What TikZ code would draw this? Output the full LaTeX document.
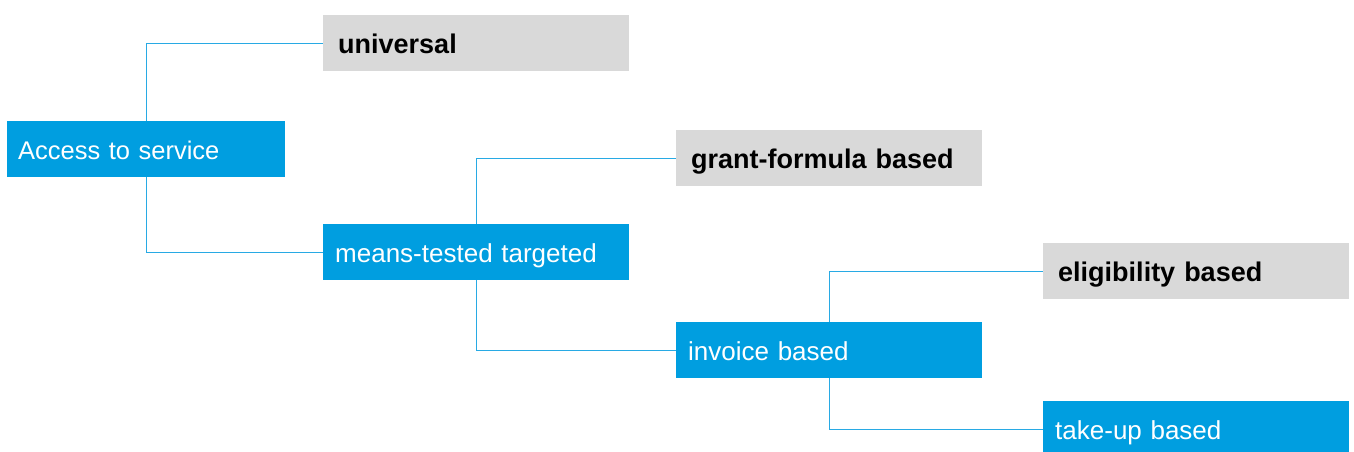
\documentclass[tikz,border=0pt]{standalone}
\usepackage{fontspec}
\setmainfont{Liberation Sans}
\definecolor{boxblue}{RGB}{0,158,224}
\definecolor{boxgray}{RGB}{217,217,217}
\definecolor{linkblue}{RGB}{40,170,228}
\begin{document}
\begin{tikzpicture}[x=1pt,y=-1pt,
  item/.style={rectangle, anchor=north west, minimum width=306pt, minimum height=56pt,
    text width=306pt-2*\pgfkeysvalueof{/pgf/inner xsep}, align=left,
    text height=20pt, text depth=0pt},
  choice/.style={item, fill=boxblue, text=white, inner xsep=12pt,
    font=\fontsize{26pt}{28pt}\selectfont},
  leaf/.style={item, fill=boxgray, text=black, inner xsep=15pt,
    font=\fontsize{27pt}{29pt}\selectfont\bfseries},
  link/.style={draw=linkblue, line width=1.3pt}]
\useasboundingbox (0,0) rectangle (1354,452);

\node[choice, minimum width=278pt, text width=256pt, inner xsep=11pt,
  font=\fontsize{25.5pt}{28pt}\selectfont] (acc) at (7,121) {Access to service};
\node[leaf]   (uni) at (323,15)   {universal};
\node[choice] (mt)  at (323,224)  {means-tested targeted};
\node[leaf]   (gf)  at (676,130)  {grant-formula based};
\node[choice] (inv) at (676,322)  {invoice based};
\node[leaf]   (eli) at (1043,243) {eligibility based};
\node[choice] (tu)  at (1043,401) {take-up based};

\draw[link] (acc.north) |- (uni.west);
\draw[link] (acc.south) |- (mt.west);
\draw[link] (mt.north)  |- (gf.west);
\draw[link] (mt.south)  |- (inv.west);
\draw[link] (inv.north) |- (eli.west);
\draw[link] (inv.south) |- (tu.west);
\end{tikzpicture}
\end{document}
